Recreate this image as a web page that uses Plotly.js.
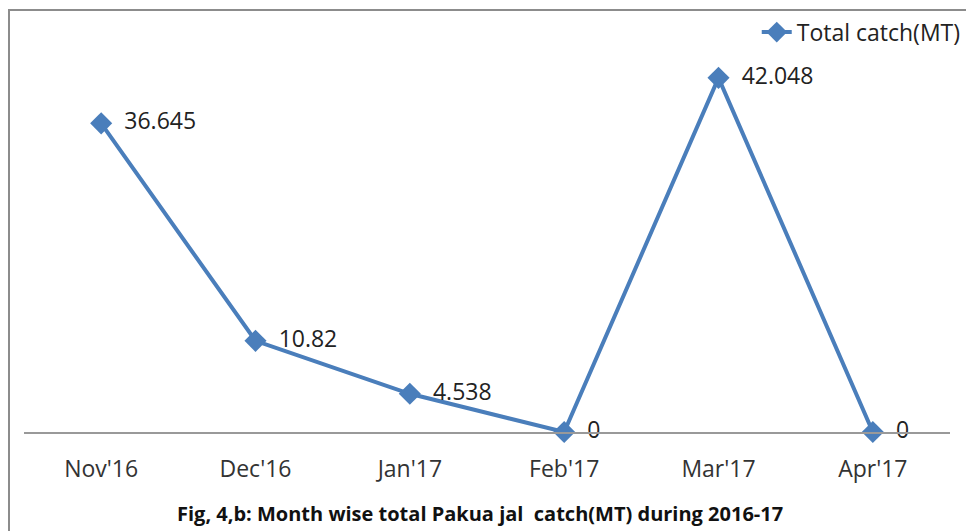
<!DOCTYPE html>
<html>
<head>
<meta charset="utf-8">
<script src="https://cdn.plot.ly/plotly-3.0.1.min.js"></script>
<style>
  html, body { margin: 0; padding: 0; background: #fff; }
  #wrap { position: relative; width: 966px; height: 531px; }
  #frame { position: absolute; left: 8px; top: 9px; width: 970px; height: 540px;
           border: 2px solid #8c8c8c; box-sizing: border-box; pointer-events: none; }
  #chart { position: absolute; left: 0; top: 0; width: 966px; height: 531px; }
</style>
</head>
<body>
<div id="wrap">
  <div id="chart"></div>
  <div id="frame"></div>
</div>
<script>
// months and total catch (MT)
const months = ["Nov'16", "Dec'16", "Jan'17", "Feb'17", "Mar'17", "Apr'17"];
const totalCatch = [36.645, 10.82, 4.538, 0, 42.048, 0];
const labels = ["36.645", "10.82", "4.538", "0", "42.048", "0"];

const blue = "#4a7ebb";
const font = "'Open Sans', sans-serif";

const trace = {
  x: months,
  y: totalCatch,
  type: "scatter",
  mode: "lines+markers+text",
  name: "Total catch(MT)",
  text: labels.map((s) => "\u2002" + s),
  textposition: "middle right",
  textfont: { family: font, size: 23, color: "#222" },
  line: { color: blue, width: 4 },
  marker: { symbol: "diamond", size: 17, color: blue },
  cliponaxis: false,
};

const layout = {
  width: 966,
  height: 531,
  margin: { l: 24, r: 16, t: 53, b: 99, autoexpand: false },
  paper_bgcolor: "#fff",
  plot_bgcolor: "#fff",
  font: { family: font, color: "#222" },
  xaxis: {
    type: "category",
    range: [-0.5, 5.5],
    showline: true,
    linecolor: "#999",
    linewidth: 1.5,
    showgrid: false,
    zeroline: false,
    ticks: "",
    ticklabelstandoff: 16,
    tickfont: { family: font, size: 23, color: "#333" },
  },
  yaxis: {
    range: [0, 45],
    visible: false,
    showgrid: false,
    zeroline: false,
  },
  showlegend: true,
  legend: {
    x: 1.017, xanchor: "right", y: 1.055, yanchor: "middle",
    font: { family: font, size: 23, color: "#222" },
    bgcolor: "rgba(0,0,0,0)",
  },
  annotations: [{
    text: "<b>Fig, 4,b: Month wise total Pakua jal  catch(MT) during 2016-17</b>",
    xref: "paper", yref: "paper",
    x: 0.492, y: -0.216,
    xanchor: "center", yanchor: "middle",
    showarrow: false,
    font: { family: font, size: 20, color: "#111" },
  }],
};

Plotly.newPlot("chart", [trace], layout, { displayModeBar: false, staticPlot: true });
</script>
</body>
</html>
